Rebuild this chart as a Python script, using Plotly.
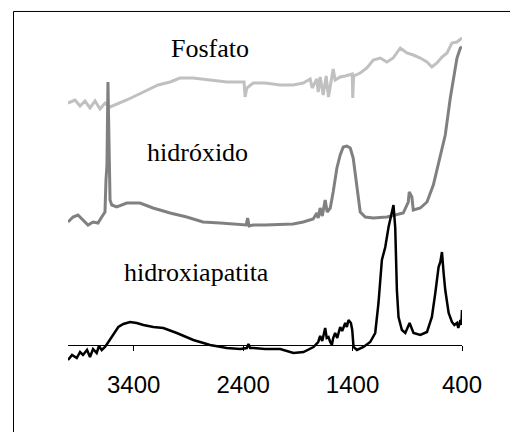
import plotly.graph_objects as go

# Wavenumbers (cm-1) and relative intensities (arbitrary units, offset per spectrum)
fosfato_wn = [4000, 3936, 3890, 3845, 3799, 3753, 3707, 3662, 3616, 3543, 3463, 3387, 3280, 3177,
              3067, 2976, 2857, 2702, 2549, 2427, 2391, 2382, 2366, 2308, 2199, 2061, 1943, 1851,
              1787, 1769, 1726, 1714, 1696, 1668, 1641, 1620, 1595, 1577, 1559, 1513, 1467, 1421,
              1403, 1398, 1390, 1330, 1269, 1211, 1147, 1086, 1029, 964, 937, 903, 845, 781, 720,
              675, 629, 583, 537, 492, 446, 400]
fosfato_y = [2.42, 2.45, 2.39, 2.44, 2.37, 2.44, 2.36, 2.42, 2.38, 2.41, 2.45, 2.49, 2.55, 2.60,
             2.63, 2.67, 2.67, 2.65, 2.63, 2.63, 2.63, 2.48, 2.57, 2.62, 2.62, 2.60, 2.60, 2.62,
             2.66, 2.57, 2.66, 2.53, 2.68, 2.50, 2.69, 2.48, 2.65, 2.76, 2.65, 2.68, 2.69, 2.71,
             2.71, 2.47, 2.69, 2.72, 2.77, 2.85, 2.87, 2.83, 2.87, 2.97, 2.95, 2.92, 2.90, 2.87, 2.83,
             2.78, 2.82, 2.88, 2.92, 3.02, 3.03, 3.07]

hidroxido_wn = [4000, 3954, 3909, 3863, 3817, 3771, 3726, 3692, 3662, 3653, 3644, 3635, 3625, 3616,
                3600, 3555, 3463, 3342, 3223, 3067, 2915, 2766, 2610, 2427, 2372, 2359, 2345, 2308,
                2199, 1943, 1851, 1760, 1726, 1714, 1696, 1677, 1650, 1632, 1604, 1577, 1543, 1513,
                1485, 1452, 1421, 1394, 1360, 1330, 1284, 1211, 1086, 995, 937, 891, 882, 858, 845,
                781, 720, 662, 598, 553, 507, 480, 446, 415, 400]
hidroxido_y = [1.23, 1.28, 1.30, 1.25, 1.20, 1.23, 1.22, 1.28, 1.33, 1.65, 1.80, 2.63, 1.95, 1.45,
               1.40, 1.38, 1.42, 1.42, 1.37, 1.32, 1.28, 1.23, 1.22, 1.21, 1.20, 1.27, 1.19, 1.20,
               1.20, 1.21, 1.23, 1.26, 1.32, 1.27, 1.37, 1.29, 1.45, 1.33, 1.37, 1.53, 1.77, 1.90,
               1.98, 1.99, 1.97, 1.87, 1.60, 1.33, 1.28, 1.27, 1.28, 1.30, 1.32, 1.43, 1.53, 1.48, 1.35,
               1.37, 1.43, 1.60, 1.90, 2.10, 2.47, 2.63, 2.87, 2.97, 2.98]

hap_wn = [4000, 3963, 3920, 3890, 3863, 3826, 3799, 3771, 3738, 3717, 3692, 3662, 3631, 3600, 3570,
          3540, 3494, 3433, 3372, 3311, 3220, 3129, 3006, 2855, 2702, 2549, 2427, 2366, 2351, 2336,
          2306, 2199, 2061, 1940, 1848, 1757, 1714, 1696, 1677, 1664, 1650, 1636, 1620, 1604, 1589,
          1577, 1559, 1540, 1513, 1495, 1467, 1452, 1437, 1415, 1403, 1391, 1360, 1300, 1239, 1193,
          1163, 1132, 1101, 1071, 1041, 1026, 1010, 995, 980, 949, 918, 879, 843, 781, 720, 675,
          644, 614, 598, 583, 568, 553, 522, 492, 470, 446, 434, 415, 406, 400]
hap_y = [-0.15, -0.10, -0.13, -0.07, -0.10, -0.05, -0.12, -0.04, -0.08, -0.01, -0.05, -0.02, 0.03,
         0.08, 0.13, 0.18, 0.21, 0.23, 0.22, 0.20, 0.18, 0.17, 0.12, 0.05, 0.00, -0.03, -0.04, -0.03,
         0.01, -0.03, -0.03, -0.04, -0.04, -0.08, -0.07, -0.02, 0.03, 0.09, 0.04, 0.12, 0.17, 0.07,
         0.08, 0.03, 0.00, 0.07, 0.12, 0.07, 0.18, 0.14, 0.22, 0.18, 0.25, 0.22, 0.15, -0.02, -0.05,
         -0.02, 0.03, 0.12, 0.42, 0.85, 0.98, 1.18, 1.35, 1.40, 1.17, 0.55, 0.28, 0.15, 0.12, 0.22,
         0.12, 0.10, 0.13, 0.28, 0.52, 0.78, 0.83, 0.93, 0.72, 0.55, 0.32, 0.23, 0.20, 0.22, 0.17,
         0.25, 0.20, 0.35]

tick_vals = [3400, 2400, 1400, 400]
tick_text = ["3400", "2400", "1400", "400"]

labels = ["Fosfato", "hidróxido", "hidroxiapatita"]
label_x = [2702, 2816, 2830]
label_y = [2.97, 1.93, 0.73]

fig = go.Figure()
fig.add_trace(go.Scatter(x=fosfato_wn, y=fosfato_y, mode="lines",
                         line=dict(color="#c0c0c0", width=3), showlegend=False))
fig.add_trace(go.Scatter(x=hidroxido_wn, y=hidroxido_y, mode="lines",
                         line=dict(color="#808080", width=3), showlegend=False))
fig.add_trace(go.Scatter(x=hap_wn, y=hap_y, mode="lines",
                         line=dict(color="#000000", width=2.5), showlegend=False))

for t, xx, yy in zip(labels, label_x, label_y):
    fig.add_annotation(x=xx, y=yy, text=t, showarrow=False, xanchor="center", yanchor="middle",
                       font=dict(family="Liberation Serif, Times New Roman, serif", size=26,
                                 color="black"))

# outer frame (only left and top edges fall inside the picture)
fig.add_shape(type="line", xref="paper", yref="paper", x0=-0.1383, x1=-0.1383, y0=-0.25, y1=0.9960,
              line=dict(color="black", width=1), layer="below")
fig.add_shape(type="line", xref="paper", yref="paper", x0=-0.1383, x1=1.25, y0=0.9960, y1=0.9960,
              line=dict(color="black", width=1), layer="below")

fig.update_layout(
    width=510, height=432,
    margin=dict(l=68, r=48, t=10, b=52),
    paper_bgcolor="white", plot_bgcolor="white",
    xaxis=dict(range=[4000, 400], tickvals=tick_vals, ticktext=tick_text,
               anchor="free", position=0.0946, showline=True, linecolor="black", linewidth=1,
               ticks="outside", ticklen=5, tickcolor="black", tickwidth=1,
               showgrid=False, zeroline=False, ticklabelstandoff=13,
               tickfont=dict(family="Liberation Sans, Arial", size=24, color="black")),
    yaxis=dict(range=[-0.35, 3.35], visible=False, showgrid=False, zeroline=False),
)

fig.write_html("out.html")
